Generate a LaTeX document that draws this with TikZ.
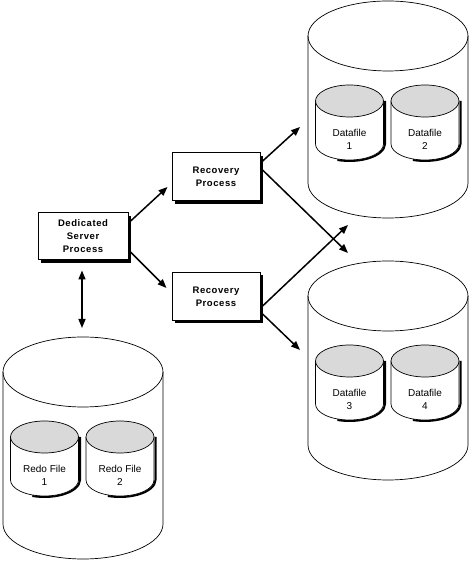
\documentclass[tikz,border=0pt]{standalone}
\usepackage{fontspec}
\setmainfont{Liberation Sans}
\newfontfamily\boldlabfont[LetterSpace=6]{Liberation Sans Bold}
\usetikzlibrary{arrows.meta, shadows}

\tikzset{
    procbox/.style={draw, fill=white, line width=1pt, minimum width=90pt, minimum height=47pt,
        align=center, font=\boldlabfont\fontsize{9.5}{13}\selectfont,
        drop shadow={shadow xshift=3pt, shadow yshift=-3pt, opacity=1, fill=black}},
    filelab/.style={align=center, font=\fontsize{10}{13}\selectfont, inner sep=0pt},
    flow/.style={line width=1.5pt, -{Triangle[length=9pt, width=7pt]}},
}

% big drum: centre x, top centre y, height
\newcommand{\bigdrum}[3]{%
    \fill[white] (#1-80,#2) -- (#1-80,#2-#3)
        arc[start angle=180, end angle=360, x radius=80, y radius=35] -- (#1+80,#2) -- cycle;
    \draw[line width=0.7pt] (#1-80,#2) -- (#1-80,#2-#3)
        arc[start angle=180, end angle=360, x radius=80, y radius=35] -- (#1+80,#2);
    \draw[line width=0.7pt] (#1,#2) ellipse[x radius=80, y radius=35];
}
% small drum: name, centre x, top centre y, label
\newcommand{\smalldrum}[4]{%
    \draw[line width=2pt] (#2+35.5,#3) -- (#2+35.5,#3-43)
        arc[start angle=0, end angle=-110, x radius=35.5, y radius=17];
    \filldraw[fill=white, line width=0.7pt] (#2-34,#3) -- (#2-34,#3-43)
        arc[start angle=180, end angle=360, x radius=34, y radius=16] -- (#2+34,#3) -- cycle;
    \filldraw[fill=gray!30, line width=0.7pt] (#2,#3) ellipse[x radius=34, y radius=16];
    \node[filelab] (#1) at (#2,#3-38) {#4};
}

\begin{document}
\begin{tikzpicture}[x=1pt, y=1pt]
    \useasboundingbox (0,0) rectangle (473,561);

    % Draw drums
    \bigdrum{388}{525}{147}
    \smalldrum{df1}{349.5}{460}{Datafile\\1}
    \smalldrum{df2}{425}{460}{Datafile\\2}

    \bigdrum{388}{265}{149}
    \smalldrum{df3}{349.5}{200}{Datafile\\3}
    \smalldrum{df4}{425}{200}{Datafile\\4}

    \bigdrum{83}{189}{152}
    \smalldrum{rf1}{44.5}{124}{Redo File\\1}
    \smalldrum{rf2}{120}{124}{Redo File\\2}

    % Draw nodes
    \node[procbox] (ded) at (83,324.5) {Dedicated\\Server\\Process};
    \node[procbox, minimum width=88pt, minimum height=48pt] (rt) at (216,384) {Recovery\\Process};
    \node[procbox, minimum width=88pt, minimum height=48pt] (rb) at (216,264.5) {Recovery\\Process};

    % Arrow ends
    \coordinate (top in) at (300,434);
    \coordinate (mid a) at (348,308);
    \coordinate (mid b) at (348,336);
    \coordinate (low in) at (300,211);
    \coordinate (redo in) at (82,233);

    % Draw connections
    \draw[flow] ([yshift=13.5pt]ded.east) -- ([xshift=-4pt, yshift=-10pt]rt.west);
    \draw[flow] ([yshift=-13.5pt]ded.east) -- ([xshift=-5pt, yshift=8.5pt]rb.west);
    \draw[flow] ([yshift=14pt]rt.east) -- (top in);
    \draw[flow] ([yshift=9pt]rt.east) -- (mid a);
    \draw[flow] ([yshift=-11.5pt]rb.east) -- (mid b);
    \draw[flow] ([yshift=-15.5pt]rb.east) -- (low in);
    \draw[flow, {Triangle[length=9pt, width=7pt]}-{Triangle[length=9pt, width=7pt]}]
        ([xshift=-1pt, yshift=-10pt]ded.south) -- (redo in);
\end{tikzpicture}
\end{document}
